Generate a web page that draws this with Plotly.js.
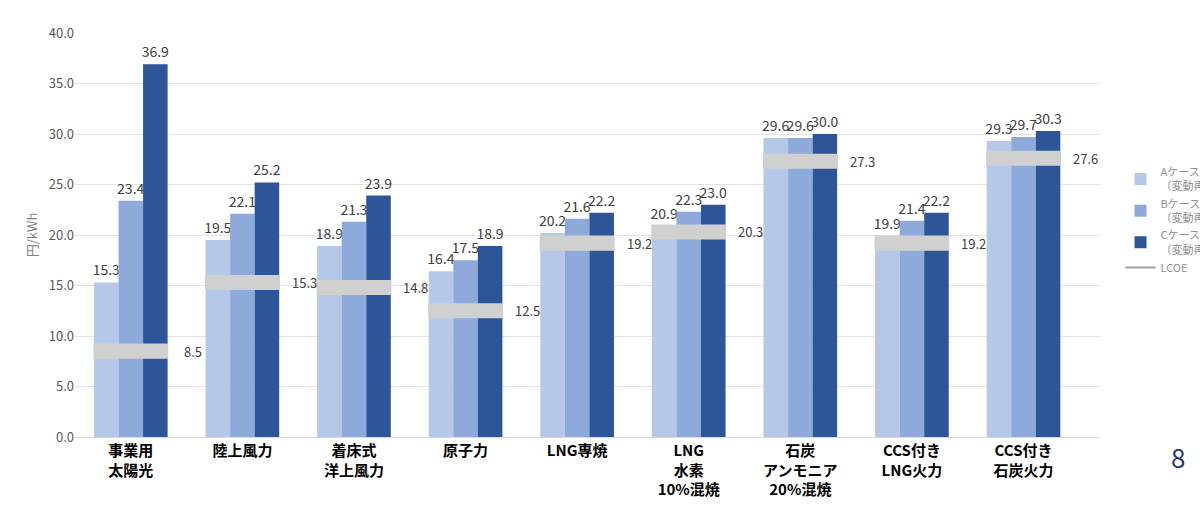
<!DOCTYPE html>
<html><head><meta charset="utf-8">
<script src="https://cdn.plot.ly/plotly-3.0.1.min.js"></script>
<style>body{margin:0;background:#fff}#c{width:1200px;height:514px}</style>
</head><body><div id="c"></div>
<script>
const cats = ["<b>事業用</b><br><b>太陽光</b>","<b>陸上風力</b>","<b>着床式</b><br><b>洋上風力</b>","<b>原子力</b>","<b>LNG専焼</b>","<b>LNG</b><br><b>水素</b><br><b>10%混焼</b>","<b>石炭</b><br><b>アンモニア</b><br><b>20%混焼</b>","<b>CCS付き</b><br><b>LNG火力</b>","<b>CCS付き</b><br><b>石炭火力</b>"];
const caseA = [15.3,19.5,18.9,16.4,20.2,20.9,29.6,19.9,29.3];
const caseB = [23.4,22.1,21.3,17.5,21.6,22.3,29.6,21.4,29.7];
const caseC = [36.9,25.2,23.9,18.9,22.2,23.0,30.0,22.2,30.3];
const lcoe  = [8.5,15.3,14.8,12.5,19.2,20.3,27.3,19.2,27.6];
const names = ["Aケース<br>（変動再エネ容量４割）","Bケース<br>（変動再エネ容量５割）","Cケース<br>（変動再エネ容量６割）"];
const colors = ["#b6c8e8","#8eaadb","#2e5597"];
const FONT = "Noto Sans CJK JP, Noto Sans, sans-serif";

const traces = [caseA,caseB,caseC].map((v,i)=>({
  type:"bar", x:cats, y:v, name:names[i], marker:{color:colors[i]},
  text:v.map(n=>n.toFixed(1)), textposition:"outside", cliponaxis:false,
  constraintext:"none", textfont:{color:"#404040",size:14}
}));
traces.push({
  type:"bar", x:cats, y:lcoe.map(()=>1.5), base:lcoe.map(v=>v-0.75),
  xaxis:"x2", width:0.67, marker:{color:"#d0d0d0"}, name:"LCOE", showlegend:false, hoverinfo:"skip"
});
traces.push({type:"scatter",mode:"lines",x:[null],y:[null],name:"LCOE",line:{color:"#a0a0a0",width:2}});

const annotations = lcoe.map((v,i)=>({
  x:cats[i], y:v, xref:"x2", yref:"y", text:v.toFixed(1), showarrow:false,
  xshift:62, font:{color:"#404040",size:13}
}));
annotations.push({x:1.085,y:-0.1,xref:"paper",yref:"paper",text:"8",showarrow:false,
  xanchor:"right",font:{color:"#1f3b7a",size:26}});

Plotly.newPlot("c", traces, {
  width:1200, height:514,
  paper_bgcolor:"#fff", plot_bgcolor:"#fff",
  font:{family:FONT,color:"#595959"},
  margin:{l:75,r:100,t:33,b:77,autoexpand:false},
  barmode:"group", bargap:0.34, bargroupgap:0,
  showlegend:true,
  legend:{x:1.02,y:0.69,xanchor:"left",yanchor:"top",font:{size:11,color:"#909090"},
    bgcolor:"rgba(0,0,0,0)",tracegroupgap:0,itemwidth:30},
  xaxis:{type:"category",tickfont:{size:15,color:"#000"},showline:true,linecolor:"#d9d9d9",ticks:""},
  xaxis2:{type:"category",overlaying:"x",matches:"x",visible:false},
  yaxis:{range:[0,40],dtick:5,tickformat:".1f",gridcolor:"#e3e3e3",zeroline:false,
    tickfont:{size:13,color:"#595959"},
    title:{text:"円/kWh",font:{size:13,color:"#808080"},standoff:8}},
  annotations:annotations
},{displayModeBar:false});
</script></body></html>
